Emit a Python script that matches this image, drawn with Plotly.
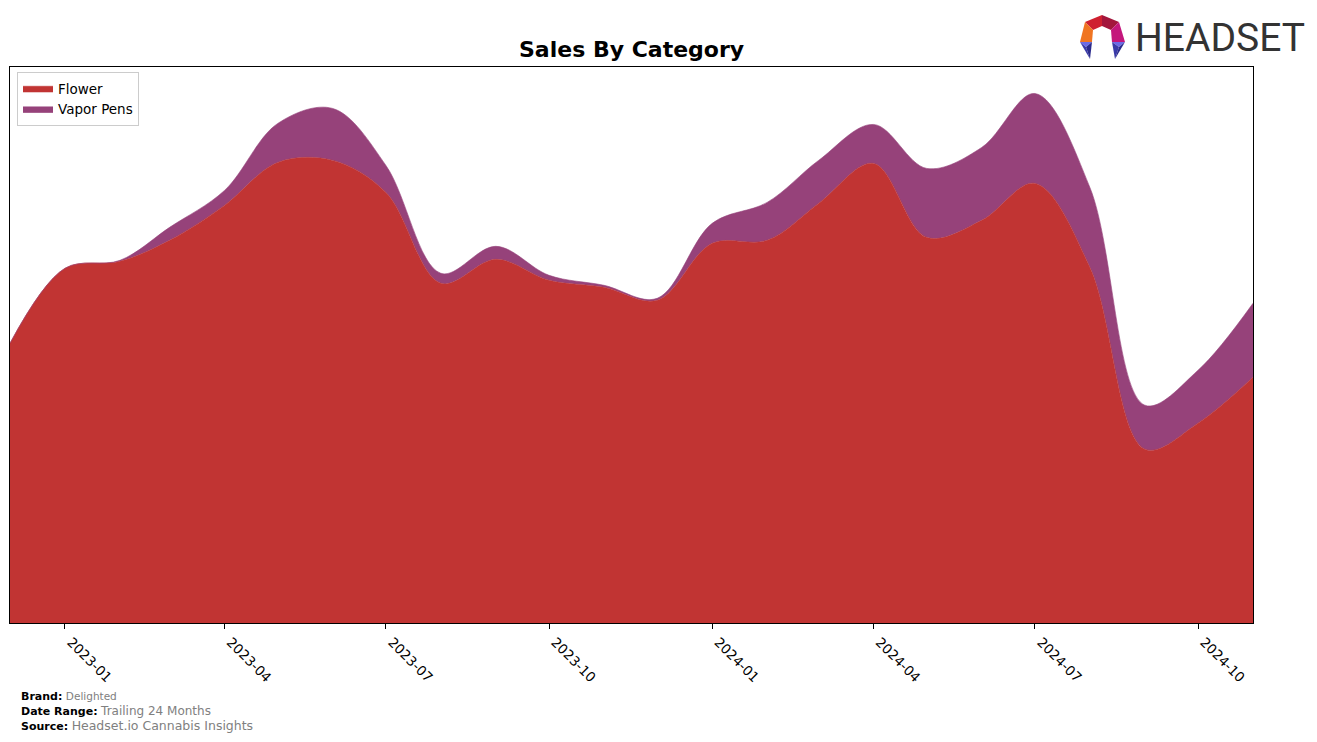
import plotly.graph_objects as go

# ---------------- data ----------------
months = ["2022-12-01", "2023-01-01", "2023-02-01", "2023-03-01", "2023-04-01", "2023-05-01",
          "2023-06-01", "2023-07-01", "2023-08-01", "2023-09-01", "2023-10-01", "2023-11-01",
          "2023-12-01", "2024-01-01", "2024-02-01", "2024-03-01", "2024-04-01", "2024-05-01",
          "2024-06-01", "2024-07-01", "2024-08-01", "2024-09-01", "2024-10-01", "2024-11-01"]
flower = [280, 355, 362, 383, 418, 461, 463, 431, 340, 364, 343, 336,
          323, 380, 383, 420, 460, 386, 403, 440, 356, 174, 200, 246]
vapor_pens = [0, 0, 1, 13, 15, 39, 52, 27, 10, 13, 5, 2,
              2, 20, 38, 43, 39, 69, 73, 90, 80, 44, 53, 74]
tick_vals = ["2023-01-01", "2023-04-01", "2023-07-01", "2023-10-01",
             "2024-01-01", "2024-04-01", "2024-07-01", "2024-10-01"]
tick_text = ["2023-01", "2023-04", "2023-07", "2023-10",
             "2024-01", "2024-04", "2024-07", "2024-10"]

FLOWER_C = "#c13433"
VAPOR_C = "#96427a"

OFF = 8  # default page body margin
W, H = 1317 - OFF, 742 - OFF
L, R, T, B = 10, 1253, 67, 623  # plot area in window pixels


def px(x):
    return (x - L) / (R - L)


def py(y):
    return (B - y) / (B - T)


fig = go.Figure()
fig.add_trace(go.Scatter(x=months, y=flower, name="Flower", stackgroup="one", mode="lines",
                         line=dict(width=0.6, color=FLOWER_C, shape="spline", smoothing=1.0),
                         fillcolor=FLOWER_C))
fig.add_trace(go.Scatter(x=months, y=vapor_pens, name="Vapor Pens", stackgroup="one", mode="lines",
                         line=dict(width=0.6, color=VAPOR_C, shape="spline", smoothing=1.0),
                         fillcolor=VAPOR_C))

ymax = max(f + v for f, v in zip(flower, vapor_pens)) * 1.05

fig.update_layout(
    width=W, height=H,
    margin=dict(l=L - OFF, r=W - (R - OFF), t=T - OFF, b=H - (B - OFF), autoexpand=False),
    paper_bgcolor="white", plot_bgcolor="white",
    font=dict(family="DejaVu Sans, sans-serif", color="black"),
    showlegend=True,
    legend=dict(x=px(17), y=py(72), xanchor="left", yanchor="top",
                bgcolor="white", bordercolor="#cccccc", borderwidth=1,
                font=dict(size=13.5), traceorder="normal", itemwidth=30,
                tracegroupgap=0),
    xaxis=dict(range=["2022-12-01", "2024-11-01"], tickvals=tick_vals, ticktext=tick_text,
               tickangle=45, ticks="outside", ticklen=5, tickcolor="black",
               ticklabelshift=6,
               showline=True, linecolor="black", linewidth=1, mirror=True,
               showgrid=False, zeroline=False, tickfont=dict(size=13.5)),
    yaxis=dict(range=[0, ymax], showticklabels=False, ticks="", showgrid=False,
               showline=True, linecolor="black", linewidth=1, mirror=True, zeroline=False),
)

annotations = [
    dict(text="<b>Sales By Category</b>", x=px(631), y=py(50), xref="paper", yref="paper",
         xanchor="center", yanchor="middle", showarrow=False, font=dict(size=22, color="black")),
    dict(text="HEADSET", x=px(1133), y=py(38), xref="paper", yref="paper",
         xanchor="left", yanchor="middle", showarrow=False,
         font=dict(size=39, color="#333333", family="Roboto, sans-serif")),
    dict(text="<b>Brand:</b> <span style='color:#808080;font-size:10.5px'>Delighted</span>",
         x=px(19), y=py(696), xref="paper", yref="paper", xanchor="left", yanchor="middle",
         showarrow=False, font=dict(size=11, color="black")),
    dict(text="<b>Date Range:</b> <span style='color:#808080;font-size:12px'>Trailing 24 Months</span>",
         x=px(19), y=py(711), xref="paper", yref="paper", xanchor="left", yanchor="middle",
         showarrow=False, font=dict(size=11, color="black")),
    dict(text="<b>Source:</b> <span style='color:#808080;font-size:12.5px'>Headset.io Cannabis Insights</span>",
         x=px(19), y=py(725), xref="paper", yref="paper", xanchor="left", yanchor="middle",
         showarrow=False, font=dict(size=11, color="black")),
]
fig.update_layout(annotations=annotations)


def poly(points, color):
    d = "M " + " L ".join(f"{px(x):.5f},{py(y):.5f}" for x, y in points) + " Z"
    return dict(type="path", path=d, xref="paper", yref="paper",
                fillcolor=color, line=dict(width=0), layer="above")


logo = [
    poly([(1085, 22), (1102, 15), (1102, 26), (1093, 30)], "#cf2030"),
    poly([(1102, 15), (1119, 22), (1111, 30), (1102, 26)], "#a3163c"),
    poly([(1085, 22), (1093, 30), (1092, 42), (1080, 42)], "#f07522"),
    poly([(1119, 22), (1125, 42), (1112, 42), (1111, 30)], "#c4177c"),
    poly([(1080, 42), (1092, 42), (1086, 47)], "#6b6be6"),
    poly([(1080, 42), (1086, 47), (1090, 59)], "#3a3aa8"),
    poly([(1092, 42), (1086, 47), (1090, 59)], "#2a2a8c"),
    poly([(1112, 42), (1125, 42), (1119, 47)], "#6b6be6"),
    poly([(1112, 42), (1119, 47), (1115, 59)], "#3a3aa8"),
    poly([(1125, 42), (1119, 47), (1115, 59)], "#2a2a8c"),
]
fig.update_layout(shapes=logo)

fig.write_html("out.html")
